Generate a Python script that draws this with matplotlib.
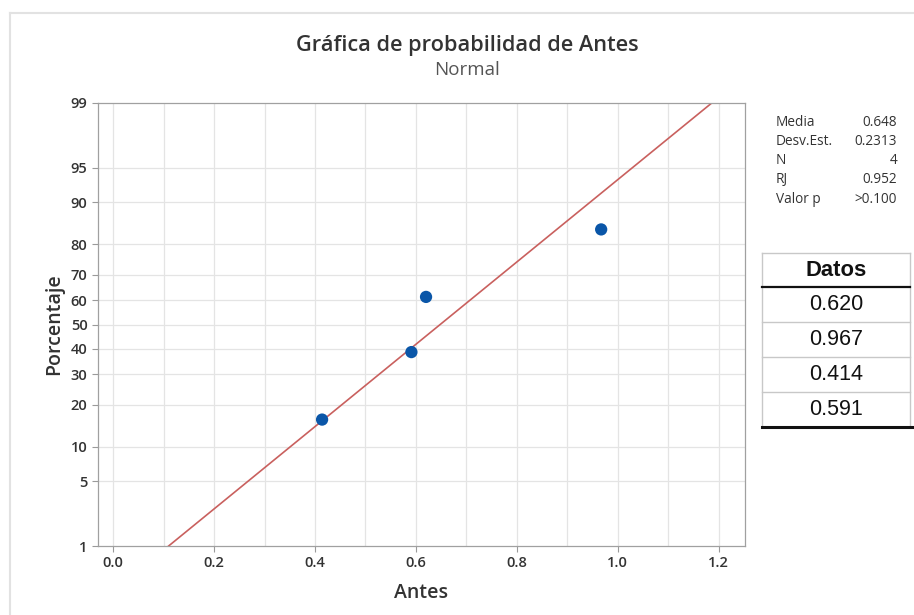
import matplotlib
matplotlib.use("Agg")
import matplotlib.pyplot as plt
from matplotlib.lines import Line2D
from statistics import NormalDist

# ---- data ----
datos = [0.620, 0.967, 0.414, 0.591]
x_sorted = [0.414, 0.591, 0.620, 0.967]
pct = [15.9, 38.6, 61.4, 84.1]
media = 0.648
desv = 0.2313
stat_labels = ["Media", "Desv.Est.", "N", "RJ", "Valor p"]
stat_values = ["0.648", "0.2313", "4", "0.952", ">0.100"]
y_ticks = [1, 5, 10, 20, 30, 40, 50, 60, 70, 80, 90, 95, 99]
x_ticks = [0.0, 0.2, 0.4, 0.6, 0.8, 1.0, 1.2]
x_grid = [i / 10 for i in range(0, 13)]

nd = NormalDist()
def zq(p):
    return nd.inv_cdf(p / 100.0)

FONT = ["Open Sans", "DejaVu Sans"]
plt.rcParams["font.family"] = FONT

W, H = 914, 615
fig = plt.figure(figsize=(W / 100, H / 100), dpi=100)

def fx(px):
    return px / W
def fy(py):
    return 1 - py / H

# outer light frame
fig.add_artist(Line2D([fx(10), fx(10)], [fy(13), fy(615)], color="#e2e2e2", lw=1.5))
fig.add_artist(Line2D([fx(10), fx(914)], [fy(13), fy(13)], color="#e2e2e2", lw=1.5))

ax = fig.add_axes([fx(98), fy(546), fx(745) - fx(98), (546 - 103) / H])

# grid
for g in x_grid:
    ax.axvline(g, color="#e4e4e4", lw=0.9, zorder=0)
for t in y_ticks[1:-1]:
    ax.axhline(zq(t), color="#e4e4e4", lw=0.9, zorder=0)

# fitted line
zl = [zq(1), zq(99)]
xl = [media + desv * z for z in zl]
ax.plot(xl, zl, color="#c9605e", lw=1.2, zorder=2)

# points
ax.scatter(x_sorted, [zq(p) for p in pct], s=78, color="#0a56a8", zorder=3, edgecolors="none")

ax.set_xlim(-0.03, 1.252)
ax.set_ylim(zq(1), zq(99))
ax.set_xticks(x_ticks)
ax.set_xticklabels([f"{v:.1f}" for v in x_ticks])
ax.set_yticks([zq(t) for t in y_ticks])
ax.set_yticklabels([str(t) for t in y_ticks])
ax.tick_params(axis="both", colors="#9a9a9a", labelcolor="#333333", labelsize=10.5, length=4, width=0.8)
for lab in ax.get_xticklabels() + ax.get_yticklabels():
    lab.set_fontweight("semibold")
for s in ax.spines.values():
    s.set_color("#a0a0a0")
    s.set_linewidth(0.9)

ax.set_xlabel("Antes", fontsize=14, color="#333333", fontweight="semibold", labelpad=9)
ax.set_ylabel("Porcentaje", fontsize=14, color="#333333", fontweight="semibold", labelpad=5)

# title
fig.text(fx(467), fy(45), "Gráfica de probabilidad de Antes", ha="center", va="center",
         fontsize=15.7, fontweight="semibold", color="#333333")
fig.text(fx(467), fy(70), "Normal", ha="center", va="center", fontsize=13.5, color="#555555")

# stats box
for i, (lab, val) in enumerate(zip(stat_labels, stat_values)):
    yy = fy(122 + i * 19.3)
    fig.text(fx(776), yy, lab, ha="left", va="center", fontsize=9.8, color="#333333")
    fig.text(fx(897), yy, val, ha="right", va="center", fontsize=9.8, color="#333333")

# data table
tx0, tx1 = 762, 910
top = 253
hdr_h = 34
row_h = 35
ARIAL = ["Liberation Sans", "DejaVu Sans"]
fig.add_artist(Line2D([fx(tx0), fx(tx1)], [fy(top), fy(top)], color="#c8c8c8", lw=1))
fig.add_artist(Line2D([fx(tx0), fx(tx0)], [fy(top), fy(top + hdr_h + row_h * len(datos))], color="#c8c8c8", lw=1))
fig.add_artist(Line2D([fx(tx1), fx(tx1)], [fy(top), fy(top + hdr_h + row_h * len(datos))], color="#c8c8c8", lw=1))
fig.text(fx((tx0 + tx1) / 2), fy(top + hdr_h / 2 + 1), "Datos", ha="center", va="center",
         fontsize=15.8, fontweight="bold", family=ARIAL, color="#111111")
fig.add_artist(Line2D([fx(tx0), fx(tx1)], [fy(top + hdr_h), fy(top + hdr_h)], color="#111111", lw=1.6))
for i, v in enumerate(datos):
    y0 = top + hdr_h + i * row_h
    fig.text(fx((tx0 + tx1) / 2), fy(y0 + row_h / 2), f"{v:.3f}", ha="center", va="center",
             fontsize=15.5, family=ARIAL, color="#111111")
    if i < len(datos) - 1:
        fig.add_artist(Line2D([fx(tx0), fx(tx1)], [fy(y0 + row_h), fy(y0 + row_h)], color="#c8c8c8", lw=1))
ybot = top + hdr_h + row_h * len(datos)
fig.add_artist(Line2D([fx(tx0), fx(tx1 + 2)], [fy(ybot), fy(ybot)], color="#111111", lw=2.2))

fig.savefig("out.png", dpi=100)
